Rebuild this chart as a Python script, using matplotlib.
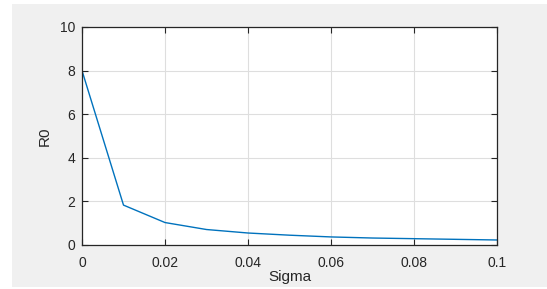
import matplotlib
matplotlib.use("Agg")
import matplotlib.pyplot as plt
from matplotlib.patches import Rectangle

sigma = [0.0, 0.01, 0.02, 0.03, 0.04, 0.05, 0.06, 0.07, 0.08, 0.09, 0.10]
r0 = [8.0, 1.83, 1.03, 0.71, 0.55, 0.45, 0.37, 0.32, 0.29, 0.26, 0.23]
xticks = [0, 0.02, 0.04, 0.06, 0.08, 0.1]
xticklabels = ["0", "0.02", "0.04", "0.06", "0.08", "0.1"]
yticks = [0, 2, 4, 6, 8, 10]

plt.rcParams['font.family'] = ['Liberation Sans', 'DejaVu Sans']

W, H = 547, 289
fig = plt.figure(figsize=(W / 100, H / 100), dpi=100, facecolor='white')
fig.patches.append(Rectangle((12 / W, 2 / H), (W - 12) / W, (H - 6) / H,
                             transform=fig.transFigure, facecolor='#f0f0f0',
                             edgecolor='none', zorder=-10))

ax = fig.add_axes([82 / W, (H - 245) / H, 415 / W, 218 / H])
ax.set_facecolor('white')
ax.plot(sigma, r0, color='#0072BD', linewidth=1.0)
ax.set_xlim(0, 0.1)
ax.set_ylim(0, 10)
ax.set_xticks(xticks)
ax.set_xticklabels(xticklabels)
ax.set_yticks(yticks)
ax.grid(True, color='#dedede', linewidth=0.8)
ax.set_axisbelow(True)
for s in ax.spines.values():
    s.set_color('#262626')
    s.set_linewidth(0.9)
ax.tick_params(direction='in', length=4, width=0.8, color='#262626',
               labelcolor='#262626', labelsize=10, top=True, right=True)
ax.tick_params(axis='x', pad=8)
ax.tick_params(axis='y', pad=5)
ax.set_xlabel('Sigma', fontsize=11, color='#262626', labelpad=0)
ax.set_ylabel('R0', fontsize=11, color='#262626', labelpad=6)

fig.savefig('out.png', dpi=100, facecolor='white')
